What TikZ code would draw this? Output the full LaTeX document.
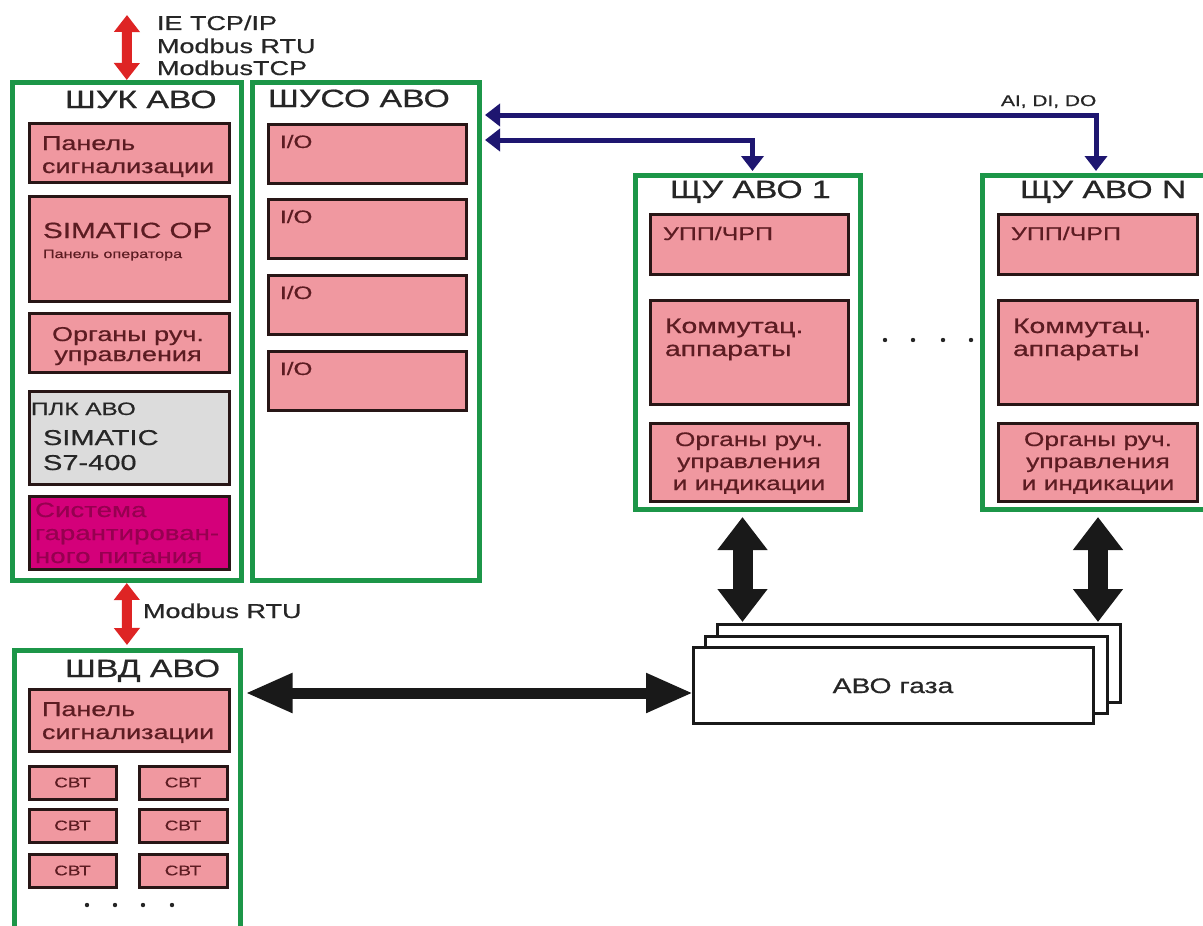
\documentclass[tikz,border=0pt]{standalone}
\usepackage{fontspec}
\setmainfont{Liberation Sans}[FakeStretch=1.35,FakeBold=0.6]
\usetikzlibrary{arrows.meta,calc}

\definecolor{grn}{RGB}{28,150,72}
\definecolor{pinkf}{RGB}{240,152,160}
\definecolor{edge}{RGB}{40,22,22}
\definecolor{maroon}{RGB}{92,28,34}
\definecolor{plcgray}{RGB}{220,220,220}
\definecolor{upsfill}{RGB}{212,0,122}
\definecolor{upstext}{RGB}{150,0,80}
\definecolor{ink}{RGB}{38,38,38}
\definecolor{arrred}{RGB}{222,36,36}
\definecolor{navy}{RGB}{30,22,112}

\newcommand\fs[1]{\fontsize{#1}{#1}\selectfont}
% box node from top-left (x1,y1) to bottom-right (x2,y2), border centre line
\newcommand\boxat[6]{\node[#2, anchor=north west, minimum width={(#5)-(#3)}, minimum height={(#6)-(#4)}] (#1) at (#3,#4) {};}

\tikzset{
  cab/.style={draw=grn, line width=5pt, fill=white, inner sep=0pt, outer sep=0pt},
  unit/.style={draw=edge, line width=3pt, fill=pinkf, inner sep=0pt, outer sep=0pt},
  plcbox/.style={unit, fill=plcgray},
  upsbox/.style={unit, fill=upsfill},
  sheet/.style={draw=black!90, line width=3pt, fill=white, inner sep=0pt, outer sep=0pt},
  lbl/.style={inner sep=0pt, outer sep=0pt, text=ink, anchor=base west},
  title/.style={lbl, font=\fs{25}},
  ptxt/.style={lbl, text=maroon, font=\fs{20}},
  ctxt/.style={ptxt, anchor=base},
  redlink/.style={draw=arrred, line width=10pt, {Triangle[width=25pt,length=17pt]}-{Triangle[width=25pt,length=17pt]}},
  bluelink/.style={draw=navy, line width=5pt, {Triangle[width=22pt,length=15pt]}-{Triangle[width=22pt,length=15pt]}},
  fatlink/.style={draw=black!90, line width=20pt, {Triangle[width=48pt,length=33pt]}-{Triangle[width=48pt,length=33pt]}},
  hlink/.style={draw=black!90, line width=11pt, {Triangle[width=37pt,length=47pt]}-{Triangle[width=37pt,length=47pt]}},
}

\begin{document}
\begin{tikzpicture}[x=1pt,y=-1pt]
\useasboundingbox (0,0) rectangle (1203,926);
\clip (0,0) rectangle (1203,926);
\fill[white] (0,0) rectangle (1203,926);

% ---- cabinets ----
\boxat{shuk}{cab}{12.5}{82.5}{241}{580}
\boxat{shuso}{cab}{252}{82.5}{479}{580}
\boxat{shvd}{cab}{14}{650}{240}{945}
\boxat{shu1}{cab}{635}{175}{860}{509}
\boxat{shuN}{cab}{982}{175}{1210}{509}

% ---- ШУК АВО ----
\node[title] (tshuk) at (65,108) {ШУК АВО};
\boxat{kpan}{unit}{29}{123}{229}{182}
\node[ptxt] (kpan1) at (42,150) {Панель};
\node[ptxt] (kpan2) at (42,173) {сигнализации};
\boxat{kop}{unit}{29}{196}{229}{301}
\node[ptxt, font=\fs{22}] (kop1) at (43,238) {SIMATIC OP};
\node[ptxt, font=\fs{12}] (kop2) at (43,258) {Панель оператора};
\boxat{korg}{unit}{29}{313}{229}{372}
\node[ctxt] (korg1) at (128,341) {Органы руч.};
\node[ctxt] (korg2) at (128,361) {управления};
\boxat{kplc}{plcbox}{29}{391}{229}{484}
\node[lbl, font=\fs{18}] (kplc1) at (31,415) {ПЛК АВО};
\node[lbl, font=\fs{21.5}] (kplc2) at (43,445) {SIMATIC};
\node[lbl, font=\fs{21.5}] (kplc3) at (43,470) {S7-400};
\boxat{kups}{upsbox}{29}{496}{229}{569}
\node[lbl, text=upstext, font=\fs{20.5}] (kups1) at (35,517) {Система};
\node[lbl, text=upstext, font=\fs{20.5}] (kups2) at (35,540) {гарантирован-};
\node[lbl, text=upstext, font=\fs{20.5}] (kups3) at (35,563) {ного питания};

% ---- ШУСО АВО ----
\node[title] (tshuso) at (268,107) {ШУСО АВО};
\foreach \i/\t in {1/124,2/199,3/275,4/351}{
  \boxat{io\i}{unit}{268}{\t}{466}{\t+59}
  \node[ptxt, font=\fs{18}] (iot\i) at (280,\t+24) {I/O};
}

% ---- ЩУ АВО 1 / N ----
\node[title] (tshu1) at (670,198) {ЩУ АВО 1};
\node[title] (tshuN) at (1020,198) {ЩУ АВО N};
\foreach \n/\xa/\xb/\xc in {1/650/848/749, N/998/1197/1098}{
  \boxat{upp\n}{unit}{\xa}{214}{\xb}{274}
  \node[ptxt, font=\fs{18.5}] (uppt\n) at (\xa+13,240) {УПП/ЧРП};
  \boxat{kom\n}{unit}{\xa}{300}{\xb}{404}
  \node[ptxt, font=\fs{21}] (komt\n) at (\xa+15,333) {Коммутац.};
  \node[ptxt, font=\fs{21}] (koms\n) at (\xa+15,356) {аппараты};
  \boxat{org\n}{unit}{\xa}{423}{\xb}{501}
  \node[ctxt, font=\fs{19.5}] (orga\n) at (\xc,446) {Органы руч.};
  \node[ctxt, font=\fs{19.5}] (orgb\n) at (\xc,468) {управления};
  \node[ctxt, font=\fs{19.5}] (orgc\n) at (\xc,490) {и индикации};
}
\foreach \x in {885,913,943,971}{\fill[ink] (\x,340) circle (2.2pt);}

% ---- ШВД АВО ----
\node[title] (tshvd) at (65,677) {ШВД АВО};
\boxat{dpan}{unit}{29}{689}{229}{751}
\node[ptxt] (dpan1) at (42,716) {Панель};
\node[ptxt] (dpan2) at (42,739) {сигнализации};
\foreach \r/\t in {1/766,2/809,3/854}{
  \boxat{svtL\r}{unit}{29}{\t}{116}{\t+33}
  \boxat{svtR\r}{unit}{139}{\t}{227}{\t+33}
  \node[ctxt, anchor=center, font=\fs{14}] at (svtL\r.center) {СВТ};
  \node[ctxt, anchor=center, font=\fs{14}] at (svtR\r.center) {СВТ};
}
\foreach \x in {87,115,143,172}{\fill[ink] (\x,905) circle (2.2pt);}

% ---- АВО газа (stack of units) ----
\boxat{back}{sheet}{717}{624}{1120}{702}
\boxat{mid}{sheet}{705}{636}{1107}{713}
\boxat{front}{sheet}{693}{647}{1093}{723}
\node[lbl, anchor=base, font=\fs{21}] (tgas) at (893,693) {АВО газа};

% ---- links ----
\coordinate (net) at (127,15);
\coordinate (busA) at (0,115);
\coordinate (busB) at (0,140);
\coordinate (busH) at (0,693);

\draw[redlink, shorten >=2.5pt] (net) -- (shuk.north);
\draw[redlink, shorten <=3pt, shorten >=5pt] (shuk.south) -- (shvd.north);
\node[lbl, font=\fs{20}] (net1) at (157,30) {IE TCP/IP};
\node[lbl, font=\fs{20}] (net2) at (157,53) {Modbus RTU};
\node[lbl, font=\fs{20}] (net3) at (157,75) {ModbusTCP};
\node[lbl, font=\fs{20}] (mbus) at (143,618) {Modbus RTU};

\draw[bluelink, shorten <=6pt, shorten >=4pt] (shuso.east |- busA) -| (shuN.north);
\coordinate (drop1) at ($(shu1.north)+(5,0)$);
\draw[bluelink, shorten <=6pt, shorten >=4pt] (shuso.east |- busB) -| (drop1);
\node[lbl, font=\fs{15.5}] (aidido) at (1001,106) {AI, DI, DO};

\coordinate (v1) at ($(shu1.south)+(-5,0)$);
\coordinate (vN) at ($(shuN.south)+(2,0)$);
\draw[fatlink, shorten <=8pt, shorten >=2pt] (v1) -- (v1 |- back.north);
\draw[fatlink, shorten <=8pt, shorten >=2pt] (vN) -- (vN |- back.north);

\draw[hlink, shorten <=5.5pt] (shvd.east |- busH) -- (front.west |- busH);
\end{tikzpicture}
\end{document}
